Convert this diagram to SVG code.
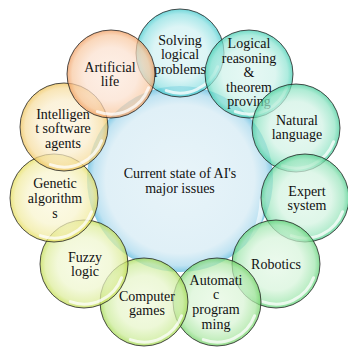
<svg xmlns="http://www.w3.org/2000/svg" xmlns:xlink="http://www.w3.org/1999/xlink" width="348" height="350" viewBox="0 0 348 350">
<style>
  .txt { font-family: 'Liberation Serif', 'DejaVu Serif', 'Times New Roman', Times, serif; font-size: 14px; fill: #111; text-anchor: middle; }
  .outer { stroke: #222; stroke-opacity: 0.8; stroke-width: 1; fill-opacity: 0.72; }
  .center { stroke: none; }
  .hl { fill: none; stroke: #fff; stroke-width: 3; stroke-opacity: 0.75; stroke-linecap: round; }
  .hlc { fill: none; stroke: #fff; stroke-width: 5; stroke-opacity: 0.6; stroke-linecap: round; }
</style>
<defs>
  <radialGradient id="gc" cx="0.5" cy="0.5" r="0.5"><stop offset="0" stop-color="#E8F4F9"/><stop offset="0.8" stop-color="#E0F0F7"/><stop offset="0.93" stop-color="#C0E3F2"/><stop offset="1" stop-color="#84CBE6"/></radialGradient>
  <radialGradient id="g1" cx="0.5" cy="0.5" r="0.5"><stop offset="0" stop-color="#DDF5F6"/><stop offset="0.6" stop-color="#CFF1F2"/><stop offset="0.88" stop-color="#8EE0E2"/><stop offset="1" stop-color="#3CC8CC"/></radialGradient>
  <radialGradient id="g2" cx="0.5" cy="0.5" r="0.5"><stop offset="0" stop-color="#DDF6F0"/><stop offset="0.6" stop-color="#CFF2EA"/><stop offset="0.88" stop-color="#8EE4D2"/><stop offset="1" stop-color="#3CCDB0"/></radialGradient>
  <radialGradient id="g3" cx="0.5" cy="0.5" r="0.5"><stop offset="0" stop-color="#DEF6EC"/><stop offset="0.6" stop-color="#D0F2E4"/><stop offset="0.88" stop-color="#90E4C4"/><stop offset="1" stop-color="#40CC98"/></radialGradient>
  <radialGradient id="g4" cx="0.5" cy="0.5" r="0.5"><stop offset="0" stop-color="#E0F7EA"/><stop offset="0.6" stop-color="#D2F3E0"/><stop offset="0.88" stop-color="#96E4BA"/><stop offset="1" stop-color="#48CC88"/></radialGradient>
  <radialGradient id="g5" cx="0.5" cy="0.5" r="0.5"><stop offset="0" stop-color="#E4F8E6"/><stop offset="0.6" stop-color="#D6F4DA"/><stop offset="0.88" stop-color="#A0E6AE"/><stop offset="1" stop-color="#58D070"/></radialGradient>
  <radialGradient id="g6" cx="0.5" cy="0.5" r="0.5"><stop offset="0" stop-color="#E6F8E2"/><stop offset="0.6" stop-color="#D8F4D4"/><stop offset="0.88" stop-color="#AAE6A2"/><stop offset="1" stop-color="#6CD060"/></radialGradient>
  <radialGradient id="g7" cx="0.5" cy="0.5" r="0.5"><stop offset="0" stop-color="#F0F9DC"/><stop offset="0.6" stop-color="#E6F5C8"/><stop offset="0.88" stop-color="#CAEB96"/><stop offset="1" stop-color="#A0D848"/></radialGradient>
  <radialGradient id="g8" cx="0.5" cy="0.5" r="0.5"><stop offset="0" stop-color="#F5FADF"/><stop offset="0.6" stop-color="#EEF6CC"/><stop offset="0.88" stop-color="#DCEC98"/><stop offset="1" stop-color="#C0DC48"/></radialGradient>
  <radialGradient id="g9" cx="0.5" cy="0.5" r="0.5"><stop offset="0" stop-color="#FBF9E0"/><stop offset="0.6" stop-color="#F8F4CC"/><stop offset="0.88" stop-color="#F0EA9C"/><stop offset="1" stop-color="#E4DC50"/></radialGradient>
  <radialGradient id="g10" cx="0.5" cy="0.5" r="0.5"><stop offset="0" stop-color="#FDF4E0"/><stop offset="0.6" stop-color="#FAEDCC"/><stop offset="0.88" stop-color="#F6DC9C"/><stop offset="1" stop-color="#EEC050"/></radialGradient>
  <radialGradient id="g11" cx="0.5" cy="0.5" r="0.5"><stop offset="0" stop-color="#FDEBDF"/><stop offset="0.6" stop-color="#FBE0CE"/><stop offset="0.88" stop-color="#F8C8A0"/><stop offset="1" stop-color="#F09858"/></radialGradient>
  <path id="arc" class="hl" d="M37.6,13.7 A40,40 0 0 1 -13.7,37.6"/>
</defs>

<g id="connectors"></g>

<g id="center-node">
  <circle class="center" cx="180" cy="179" r="93" fill="url(#gc)"/>
  <path class="hlc" d="M 84,196 A 87,87 0 0 0 262,200"/>
  <text class="txt" x="180" y="178" font-family="Liberation Serif, serif">Current state of AI's</text>
  <text class="txt" x="180" y="193" font-family="Liberation Serif, serif">major issues</text>
</g>

<g id="n1">
  <circle class="outer" cx="180" cy="53" r="44" fill="url(#g1)"/>
  <use href="#arc" x="180" y="53"/>
  <text class="txt" x="180" y="45">Solving</text>
  <text class="txt" x="180" y="59">logical</text>
  <text class="txt" x="180" y="74">problems</text>
</g>
<g id="n2">
  <circle class="outer" cx="249" cy="74" r="44" fill="url(#g2)"/>
  <use href="#arc" x="249" y="74"/>
  <text class="txt" x="249" y="48">Logical</text>
  <text class="txt" x="249" y="63">reasoning</text>
  <text class="txt" x="249" y="77">&amp;</text>
  <text class="txt" x="249" y="92">theorem</text>
  <text class="txt" x="249" y="106">proving</text>
</g>
<g id="n3">
  <circle class="outer" cx="296" cy="128" r="44" fill="url(#g3)"/>
  <use href="#arc" x="296" y="128"/>
  <text class="txt" x="297" y="125">Natural</text>
  <text class="txt" x="297" y="139">language</text>
</g>
<g id="n4">
  <circle class="outer" cx="305" cy="198" r="44" fill="url(#g4)"/>
  <use href="#arc" x="305" y="198"/>
  <text class="txt" x="307" y="196">Expert</text>
  <text class="txt" x="307" y="210">system</text>
</g>
<g id="n5">
  <circle class="outer" cx="276" cy="264" r="44" fill="url(#g5)"/>
  <use href="#arc" x="276" y="264"/>
  <text class="txt" x="276" y="269">Robotics</text>
</g>
<g id="n6">
  <circle class="outer" cx="217" cy="302" r="44" fill="url(#g6)"/>
  <use href="#arc" x="217" y="302"/>
  <text class="txt" x="216" y="285">Automati</text>
  <text class="txt" x="216" y="299">c</text>
  <text class="txt" x="216" y="314">program</text>
  <text class="txt" x="216" y="329">ming</text>
</g>
<g id="n7">
  <circle class="outer" cx="144" cy="302" r="44" fill="url(#g7)"/>
  <use href="#arc" x="144" y="302"/>
  <text class="txt" x="147" y="301">Computer</text>
  <text class="txt" x="147" y="315">games</text>
</g>
<g id="n8">
  <circle class="outer" cx="84" cy="264" r="44" fill="url(#g8)"/>
  <use href="#arc" x="84" y="264"/>
  <text class="txt" x="85" y="262">Fuzzy</text>
  <text class="txt" x="85" y="276">logic</text>
</g>
<g id="n9">
  <circle class="outer" cx="54" cy="198" r="44" fill="url(#g9)"/>
  <use href="#arc" x="54" y="198"/>
  <text class="txt" x="55" y="188">Genetic</text>
  <text class="txt" x="55" y="203">algorithm</text>
  <text class="txt" x="55" y="218">s</text>
</g>
<g id="n10">
  <circle class="outer" cx="64" cy="127" r="44" fill="url(#g10)"/>
  <use href="#arc" x="64" y="127"/>
  <text class="txt" x="63" y="119">Intelligen</text>
  <text class="txt" x="63" y="133">t software</text>
  <text class="txt" x="63" y="148">agents</text>
</g>
<g id="n11">
  <circle class="outer" cx="111" cy="74" r="44" fill="url(#g11)"/>
  <use href="#arc" x="111" y="74"/>
  <text class="txt" x="110" y="72">Artificial</text>
  <text class="txt" x="110" y="86">life</text>
</g>
</svg>
